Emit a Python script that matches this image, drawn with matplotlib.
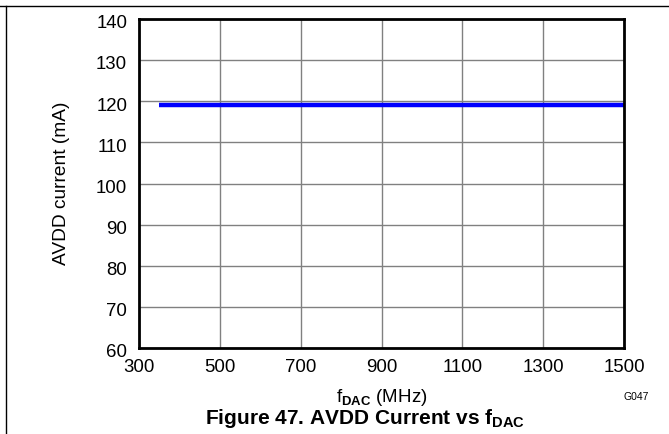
import matplotlib
matplotlib.use("Agg")
import matplotlib.pyplot as plt
import matplotlib.transforms as mtransforms
from matplotlib.lines import Line2D

plt.rcParams['font.family'] = ['Liberation Sans', 'DejaVu Sans']
plt.rcParams['mathtext.fontset'] = 'custom'
plt.rcParams['mathtext.rm'] = 'Liberation Sans'
plt.rcParams['mathtext.bf'] = 'Liberation Sans:bold'

# data
f_dac = [350, 500, 700, 900, 1100, 1300, 1500]
avdd_ma = [119, 119, 119, 119, 119, 119, 119]
x_ticks = [300, 500, 700, 900, 1100, 1300, 1500]
y_ticks = [60, 70, 80, 90, 100, 110, 120, 130, 140]

fig = plt.figure(figsize=(6.69, 4.34), dpi=100)
ax = fig.add_axes([139/669, 1 - 348/434, (624-139)/669, (348-19)/434])

ax.plot(f_dac, avdd_ma, color="#0000ff", linewidth=3.2, solid_capstyle="butt")

ax.set_xlim(300, 1500)
ax.set_ylim(60, 140)
ax.set_xticks(x_ticks)
ax.set_yticks(y_ticks)
ax.grid(True, color="#808080", linewidth=1.0)
ax.tick_params(length=0, labelsize=13.4)
ax.tick_params(axis="x", pad=8)
ax.tick_params(axis="y", pad=8.5)
for s in ax.spines.values():
    s.set_linewidth(2.0)
    s.set_color("black")

# y labels sit a touch below their gridlines in the original
shift = mtransforms.ScaledTranslation(0, -2/72, fig.dpi_scale_trans)
for lbl in ax.get_yticklabels():
    lbl.set_transform(lbl.get_transform() + shift)

ax.set_ylabel("AVDD current (mA)", fontsize=13.8, labelpad=19)
ax.set_xlabel(r"f$_{\mathbf{DAC}}$ (MHz)", fontsize=13.5, labelpad=7.5)

fig.text(636/669, 1 - 397/434, "G047", fontsize=7.5, ha="center", va="center")
fig.text(205/669, 1 - 419/434, r"Figure 47. AVDD Current vs f$_{\mathbf{DAC}}$",
         fontsize=15, fontweight="bold", ha="left", va="center")

# page frame lines
fig.add_artist(Line2D([0, 1], [1 - 6/434, 1 - 6/434], color="black", linewidth=1.0))
fig.add_artist(Line2D([6/669, 6/669], [0, 1 - 6/434], color="black", linewidth=1.0))

fig.savefig("out.png", dpi=100)
